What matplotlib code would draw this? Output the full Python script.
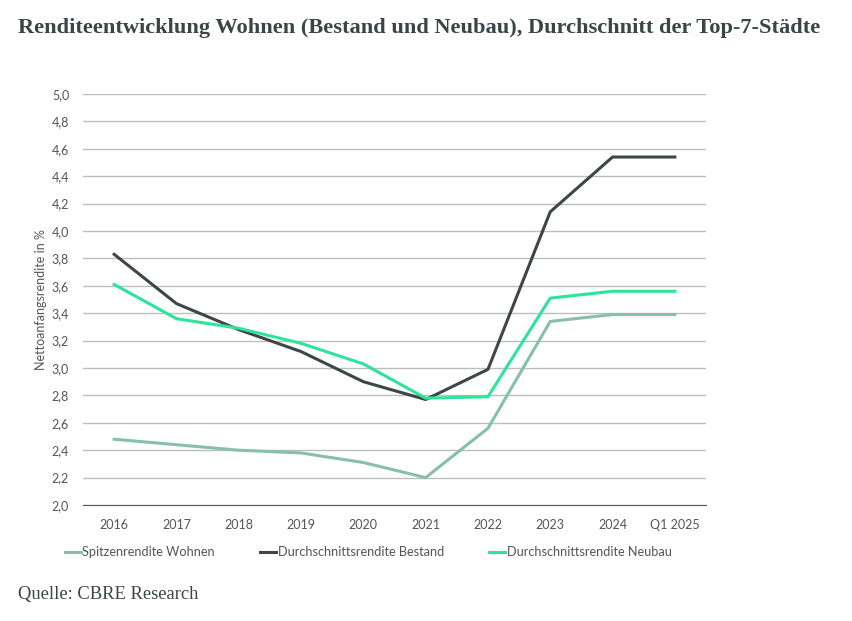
import matplotlib.pyplot as plt
import numpy as np

plt.rcParams['font.family'] = ['Lato', 'DejaVu Sans']

years = ['2016', '2017', '2018', '2019', '2020', '2021', '2022', '2023', '2024', 'Q1 2025']
spitzen = [2.48, 2.44, 2.40, 2.38, 2.31, 2.20, 2.56, 3.34, 3.39, 3.39]
bestand = [3.83, 3.47, 3.28, 3.12, 2.90, 2.77, 2.99, 4.14, 4.54, 4.54]
neubau = [3.61, 3.36, 3.29, 3.18, 3.03, 2.78, 2.79, 3.51, 3.56, 3.56]
yticks = np.arange(2.0, 5.01, 0.2)

fig = plt.figure(figsize=(8.52, 6.21), dpi=100)
ax = fig.add_axes([83/852, 1-505/621, (706-83)/852, (505-94)/621])

x = np.arange(len(years))
ax.plot(x, spitzen, color='#86bfad', lw=2.2, label='Spitzenrendite Wohnen')
ax.plot(x, bestand, color='#3d4648', lw=2.2, label='Durchschnittsrendite Bestand')
ax.plot(x, neubau, color='#2ee39a', lw=2.2, label='Durchschnittsrendite Neubau')

ax.set_xlim(-0.5, len(years) - 0.5)
ax.set_ylim(2.0, 5.0)
ax.set_yticks(yticks)
ax.set_yticklabels([f'{v:.1f}'.replace('.', ',') for v in yticks])
ax.set_xticks(x)
ax.set_xticklabels(years)
ax.grid(axis='y', color='#bdbdbd', lw=1)
ax.set_axisbelow(True)
for s in ['top', 'right', 'left']:
    ax.spines[s].set_visible(False)
ax.spines['bottom'].set_color('#555555')
ax.tick_params(length=0, labelsize=9, colors='#555555', pad=10)
ax.tick_params(axis='y', pad=10)
ax.set_ylabel('Nettoanfangsrendite in %', fontsize=9, color='#555555', labelpad=3)

ax.legend(loc='upper left', bbox_to_anchor=(-0.048, -0.072), ncol=3, frameon=False,
          fontsize=9.2, handlelength=1.3, handletextpad=0.1, columnspacing=3.5,
          labelcolor='#555555')

fig.text(18/852, 1-28/621, 'Renditeentwicklung Wohnen (Bestand und Neubau), Durchschnitt der Top-7-Städte',
         family='Liberation Serif', fontweight='bold', fontsize=16.1, color='#3a4545', va='center')
fig.text(18/852, 1-595/621, 'Quelle: CBRE Research', family='Liberation Serif',
         fontsize=13.3, color='#3a4545', va='center')

fig.savefig('out.png', dpi=100)
